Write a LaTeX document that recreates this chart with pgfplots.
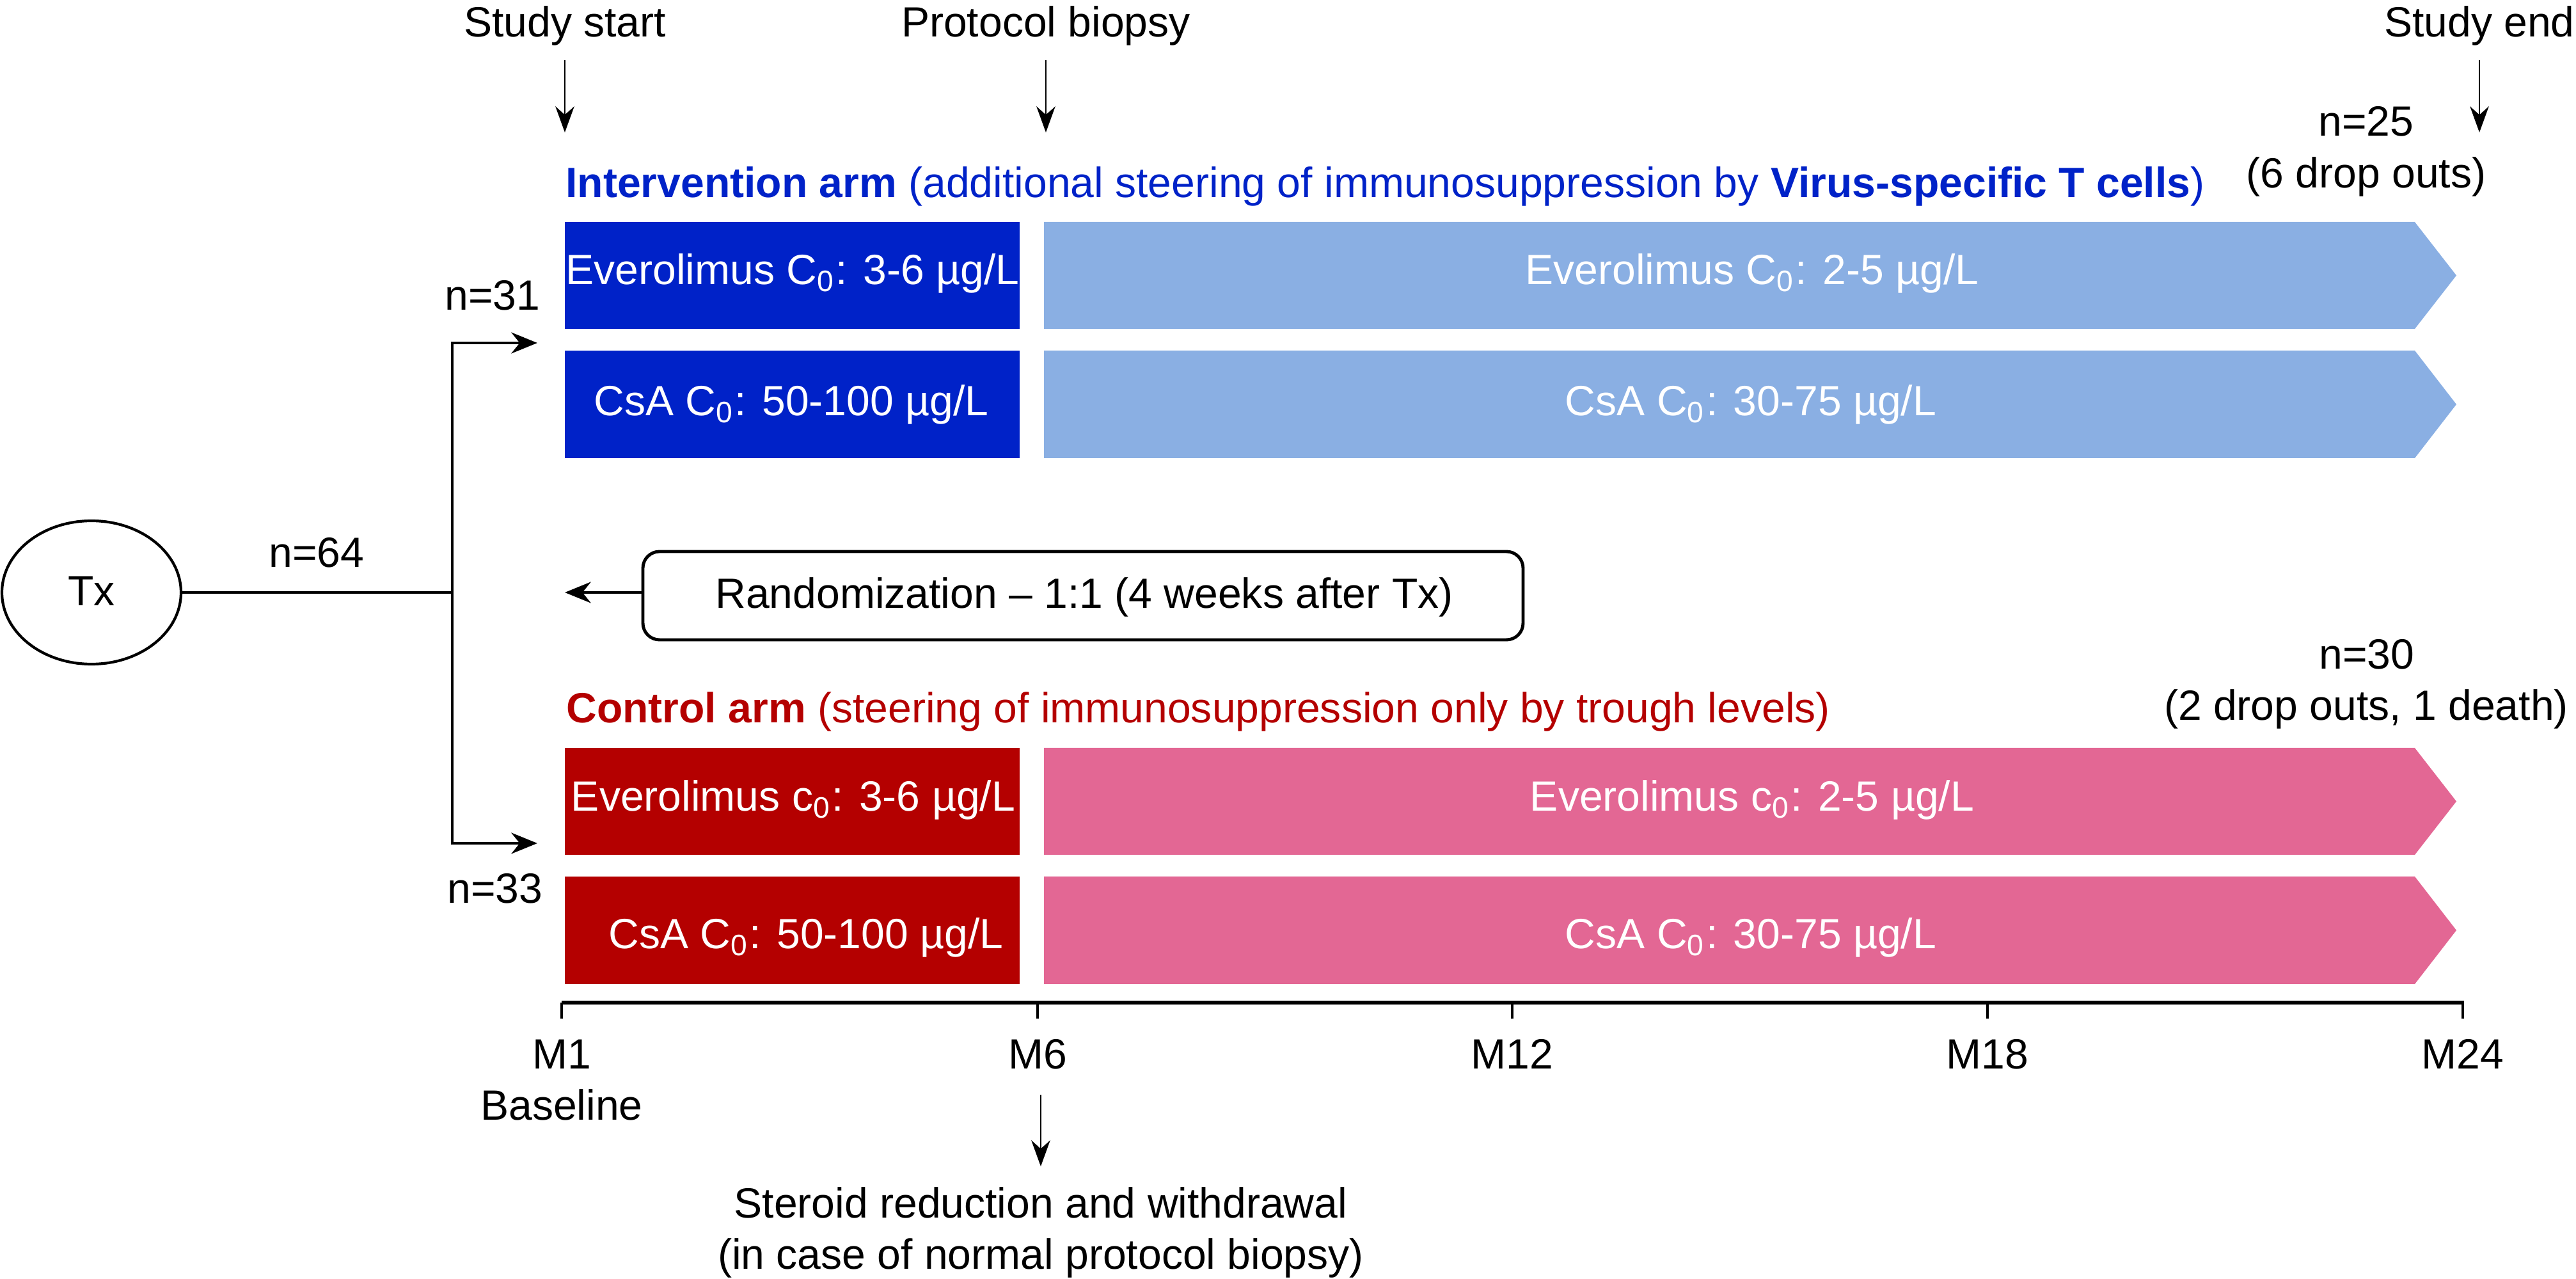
\documentclass[border=0pt]{standalone}
\usepackage{fontspec}
\setmainfont{Liberation Sans}
\usepackage{pgfplots}
\pgfplotsset{compat=1.18}
\usetikzlibrary{arrows.meta}
\definecolor{dblue}{RGB}{0,34,200}
\definecolor{lblue}{RGB}{138,175,227}
\definecolor{dred}{RGB}{180,0,0}
\definecolor{pinkc}{RGB}{227,103,148}
\newcommand\fs{\fontsize{9.4}{11}\selectfont}
\newcommand\sub[1]{\textsubscript{#1}}
\begin{document}
\begin{tikzpicture}
\tikzset{every node/.append style={inner sep=0pt,font=\fs}}
\begin{axis}[width=201.35mm,height=99.95mm,scale only axis,
  xmin=0,xmax=4027,ymin=0,ymax=1999,y dir=reverse,
  axis lines=none,clip=false]
\path (axis cs:0,0) rectangle (axis cs:4027,1999);
% --- boxes: intervention arm
\addplot[fill=dblue,draw=none] coordinates {(883,347)(1594,347)(1594,514)(883,514)};
\addplot[fill=dblue,draw=none] coordinates {(883,548)(1594,548)(1594,716)(883,716)};
\addplot[fill=lblue,draw=none] coordinates {(1632,347)(3775,347)(3840,430.5)(3775,514)(1632,514)};
\addplot[fill=lblue,draw=none] coordinates {(1632,548)(3775,548)(3840,632)(3775,716)(1632,716)};
% --- boxes: control arm
\addplot[fill=dred,draw=none] coordinates {(883,1169)(1594,1169)(1594,1336)(883,1336)};
\addplot[fill=dred,draw=none] coordinates {(883,1370)(1594,1370)(1594,1538)(883,1538)};
\addplot[fill=pinkc,draw=none] coordinates {(1632,1169)(3775,1169)(3840,1252.5)(3775,1336)(1632,1336)};
\addplot[fill=pinkc,draw=none] coordinates {(1632,1370)(3775,1370)(3840,1454)(3775,1538)(1632,1538)};
% --- top arrows
\addplot[line width=0.4pt,-{Stealth[length=5.8pt,width=4.2pt]}] coordinates {(883,94)(883,207)};
\addplot[line width=0.4pt,-{Stealth[length=5.8pt,width=4.2pt]}] coordinates {(1635,94)(1635,207)};
\addplot[line width=0.4pt,-{Stealth[length=5.8pt,width=4.2pt]}] coordinates {(3876,94)(3876,207)};
% --- Tx and bracket
\draw[line width=0.6pt] (axis cs:143,926) ellipse [x radius=7mm, y radius=5.6mm];
\addplot[line width=0.6pt] coordinates {(283,926)(708,926)};
\addplot[line width=0.55pt,{Stealth[length=5.8pt,width=4.7pt]}-{Stealth[length=5.8pt,width=4.7pt]}] coordinates {(840,536)(707,536)(707,1318)(840,1318)};
% --- randomization
\addplot[line width=0.7pt,rounded corners=1.3mm] coordinates {(1005,862)(2381,862)(2381,1000)(1005,1000)} -- cycle;
\addplot[line width=0.6pt,-{Stealth[length=5.8pt,width=4.7pt]}] coordinates {(1005,926)(883,926)};
% --- time axis
\addplot[line width=0.75pt] coordinates {(878,1567)(3852,1567)};
\addplot[line width=0.45pt] coordinates {(878,1567)(878,1592)};
\addplot[line width=0.45pt] coordinates {(1622,1567)(1622,1592)};
\addplot[line width=0.45pt] coordinates {(2364,1567)(2364,1592)};
\addplot[line width=0.45pt] coordinates {(3107,1567)(3107,1592)};
\addplot[line width=0.45pt] coordinates {(3850,1567)(3850,1592)};
\addplot[line width=0.4pt,-{Stealth[length=5.8pt,width=4.2pt]}] coordinates {(1627,1711)(1627,1823)};
% --- texts
\node[anchor=base] at (axis cs:883,57) {Study start};
\node[anchor=base] at (axis cs:1635,57) {Protocol biopsy};
\node[anchor=base] at (axis cs:3876,57) {Study end};
\node[anchor=base] at (axis cs:3699,213) {n=25};
\node[anchor=base] at (axis cs:3699,294) {(6 drop outs)};
\node[anchor=base west,text=dblue] at (axis cs:883,309) {\textbf{Intervention arm} (additional steering of immunosuppression by \textbf{Virus-specific T cells})};
\node[anchor=base,text=white] at (axis cs:1239,445) {Everolimus C\sub{0}: 3-6 µg/L};
\node[anchor=base,text=white] at (axis cs:1237,650) {CsA C\sub{0}: 50-100 µg/L};
\node[anchor=base,text=white] at (axis cs:2739,445) {Everolimus C\sub{0}: 2-5 µg/L};
\node[anchor=base,text=white] at (axis cs:2737,650) {CsA C\sub{0}: 30-75 µg/L};
\node[anchor=base] at (axis cs:770,484) {n=31};
\node[anchor=base] at (axis cs:143,947) {Tx};
\node[anchor=base] at (axis cs:495,887) {n=64};
\node[anchor=base] at (axis cs:1695,951) {Randomization – 1:1 (4 weeks after Tx)};
\node[anchor=base] at (axis cs:3700,1046) {n=30};
\node[anchor=base] at (axis cs:3699,1126) {(2 drop outs, 1 death)};
\node[anchor=base west,text=dred] at (axis cs:884,1130) {\textbf{Control arm} (steering of immunosuppression only by trough levels)};
\node[anchor=base,text=white] at (axis cs:1240,1268) {Everolimus c\sub{0}: 3-6 µg/L};
\node[anchor=base,text=white] at (axis cs:1260,1483) {CsA C\sub{0}: 50-100 µg/L};
\node[anchor=base,text=white] at (axis cs:2739,1268) {Everolimus c\sub{0}: 2-5 µg/L};
\node[anchor=base,text=white] at (axis cs:2737,1483) {CsA C\sub{0}: 30-75 µg/L};
\node[anchor=base] at (axis cs:774,1412) {n=33};
\node[anchor=base] at (axis cs:878,1671) {M1};
\node[anchor=base] at (axis cs:1622,1671) {M6};
\node[anchor=base] at (axis cs:2364,1671) {M12};
\node[anchor=base] at (axis cs:3107,1671) {M18};
\node[anchor=base] at (axis cs:3850,1671) {M24};
\node[anchor=base] at (axis cs:878,1751) {Baseline};
\node[anchor=base] at (axis cs:1627,1904) {Steroid reduction and withdrawal};
\node[anchor=base] at (axis cs:1627,1984) {(in case of normal protocol biopsy)};
\end{axis}
\end{tikzpicture}
\end{document}
